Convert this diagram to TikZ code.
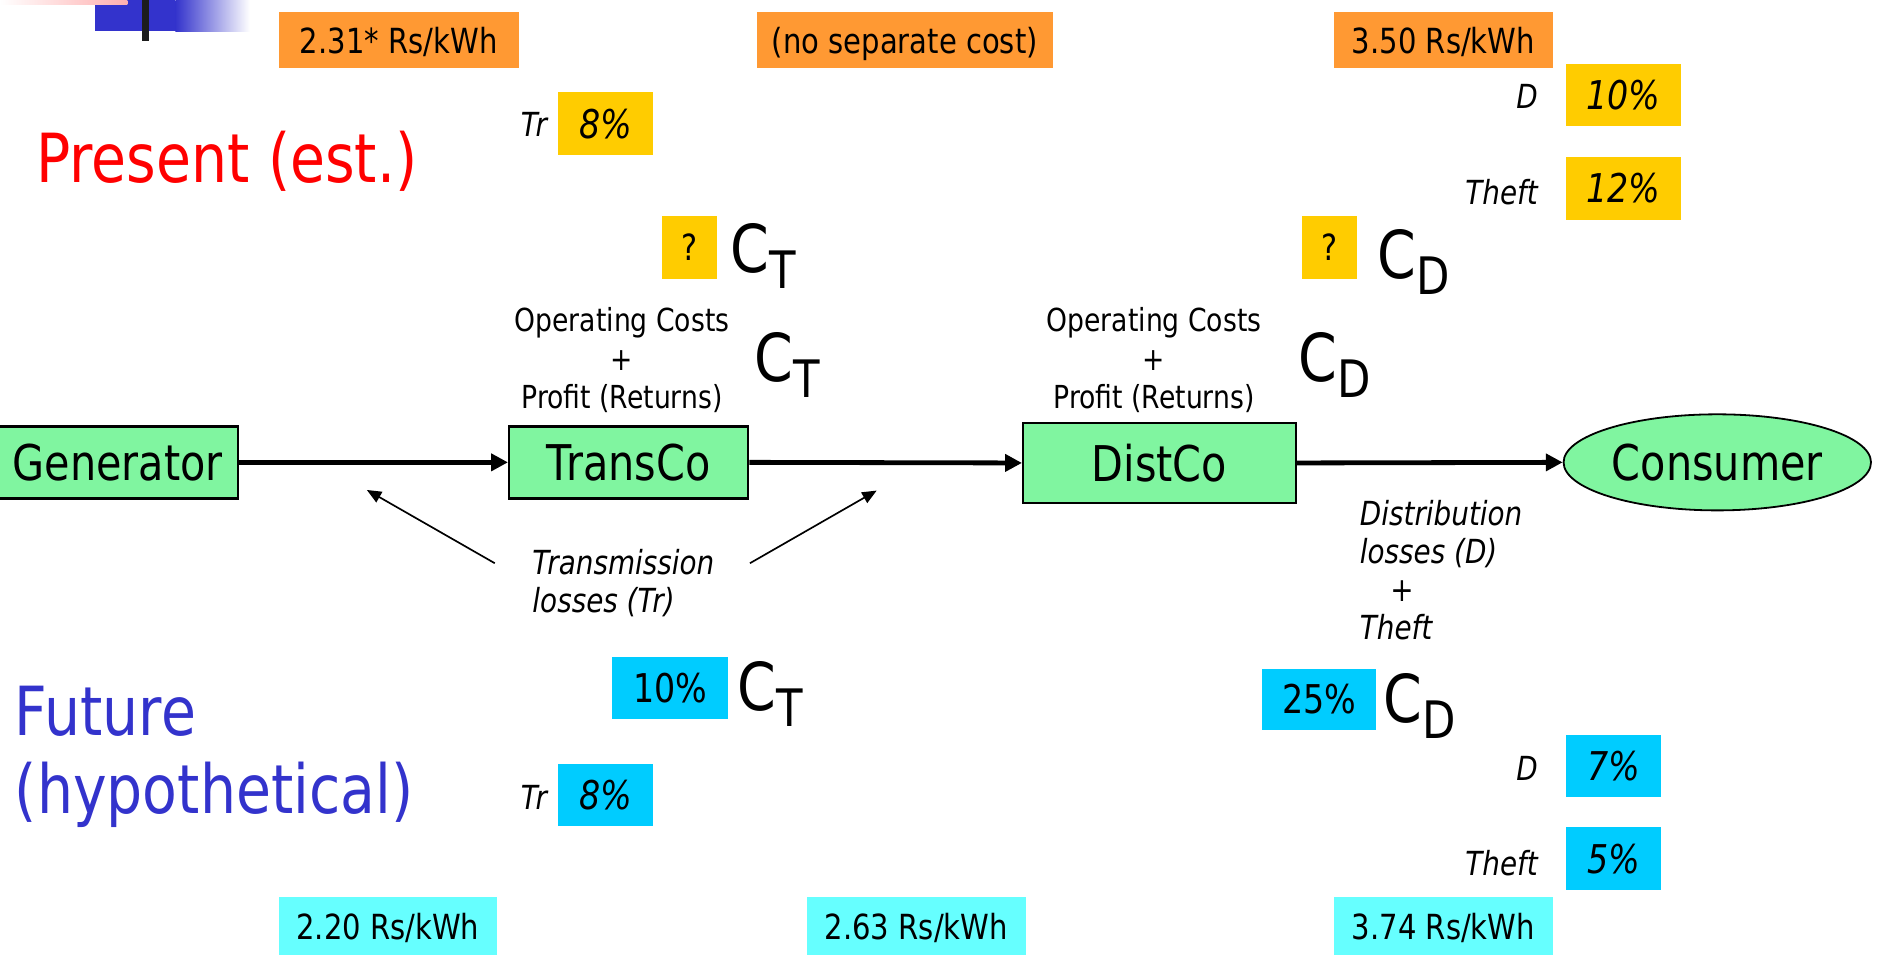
\documentclass[tikz,border=0pt]{standalone}
\usepackage{fontspec}
\setmainfont{DejaVu Sans}[FakeStretch=0.84]
\usetikzlibrary{arrows.meta,shapes.geometric}
\definecolor{orng}{HTML}{FF9933}
\definecolor{yel}{HTML}{FFCC00}
\definecolor{skyb}{HTML}{00CCFF}
\definecolor{cyn}{HTML}{66FFFF}
\definecolor{grn}{HTML}{80F5A0}
\definecolor{tblue}{HTML}{3333CC}
\definecolor{pinkbar}{HTML}{FFB0B0}
\definecolor{logobar}{HTML}{1C1C1C}
\newcommand\fsNode{\fontsize{20.5pt}{24pt}\selectfont}
\newcommand\fsPrice{\fontsize{14.4pt}{17pt}\selectfont}
\newcommand\fsOp{\fontsize{13.2pt}{16pt}\selectfont}
\newcommand\fsLab{\fontsize{13.8pt}{15.8pt}\selectfont\itshape}
\newcommand\fsPct{\fontsize{16.5pt}{19pt}\selectfont}
\newcommand\fsTitle{\fontsize{28.2pt}{32.5pt}\selectfont}
\newcommand\fsC{\fontsize{27.5pt}{30pt}\selectfont}
\newcommand\fsSub{\fontsize{21.5pt}{24pt}\selectfont}
\newcommand\fsQ{\fontsize{15pt}{18pt}\selectfont}
\tikzset{
  bx/.style 2 args={minimum width=#1*0.5pt, minimum height=#2*0.5pt, inner sep=0pt},
  pricebox/.style={fill=orng, font=\fsPrice, text depth=0pt},
  futprice/.style={fill=cyn, font=\fsPrice, text depth=0pt},
  ybox/.style={fill=yel},
  bbox/.style={fill=skyb},
  pct/.style={font=\fsPct\itshape},
  pctup/.style={font=\fsPct},
  qbox/.style={fill=yel, font=\fsQ},
  lab/.style={font=\fsLab, inner sep=0pt},
  entity/.style={draw=black, line width=1pt, fill=grn, font=\fsNode, inner sep=0pt},
  cost/.style={font=\fsC, inner sep=0pt, anchor=base west},
  flow/.style={line width=2pt, -{Triangle[length=7pt,width=7pt]}},
  pointer/.style={line width=0.7pt, -{Triangle[length=6pt,width=5pt]}},
}
\newcommand\Csub[1]{C\raisebox{-6.5pt}{\fsSub #1}}
\begin{document}
\begin{tikzpicture}[x=0.5pt,y=-0.5pt]
\useasboundingbox (0,0) rectangle (1568,804);
% logo
\fill[tblue] (79,0) rectangle (146,26);
\shade[left color=tblue, right color=white] (146,0) rectangle (208,26);
\shade[left color=white, right color=pinkbar] (0,0) rectangle (106,4);
\fill[logobar] (118,0) rectangle (124,34);
% titles
\node[anchor=base west, inner sep=0pt, font=\fsTitle, text=red] (present) at (30,152) {Present (est.)};
\node[anchor=north west, inner sep=0pt, font=\fsTitle, text=tblue, align=left] (future) at (12,571) {Future\\(hypothetical)};
% present prices
\node[pricebox, bx={200}{47}] (p1) at (332,33.5) {2.31* Rs/kWh};
\node[pricebox, bx={247}{47}] (p2) at (753.5,33.5) {(no separate cost)};
\node[pricebox, bx={182}{47}] (p3) at (1202,33.5) {3.50 Rs/kWh};
% present losses
\node[ybox, pct, bx={79}{52}] (ytr) at (504.5,103) {8\%};
\node[lab, anchor=east] (ltr) at (456,104) {Tr};
\node[ybox, pct, bx={96}{52}] (yd) at (1352,79) {10\%};
\node[lab, anchor=east] (ld) at (1281,80) {D};
\node[ybox, pct, bx={96}{52}] (yth) at (1352,157) {12\%};
\node[lab, anchor=east] (lth) at (1281,160) {Theft};
% present costs
\node[qbox, bx={46}{52}] (q1) at (574,206) {?};
\node[cost] (ct1) at (608,227) {\Csub{T}};
\node[qbox, bx={46}{52}] (q2) at (1107,206) {?};
\node[cost] (cd1) at (1147,232) {\Csub{D}};
% operating costs
\node[font=\fsOp, align=center, inner sep=0pt] (op1) at (518,300) {Operating Costs\\+\\Profit (Returns)};
\node[cost] (ct2) at (628,318) {\Csub{T}};
\node[font=\fsOp, align=center, inner sep=0pt] (op2) at (961,300) {Operating Costs\\+\\Profit (Returns)};
\node[cost] (cd2) at (1081,318) {\Csub{D}};
% chain
\node[entity, bx={200}{60}] (gen) at (98,385) {Generator};
\node[entity, bx={199}{60}] (trans) at (523.5,385) {TransCo};
\node[entity, bx={227}{67}] (dist) at (965.5,385.5) {DistCo};
\node[entity, ellipse, bx={256}{80}, line width=0.75pt] (cons) at (1430,385) {Consumer};
\draw[flow] (gen.east) -- (trans.west);
\draw[flow] (trans.east) -- (dist.west);
\draw[flow] (dist.east) -- (cons.west);
% transmission losses
\node[lab, anchor=north west, align=left] (tl) at (443,457) {Transmission\\losses (Tr)};
\coordinate (tlA) at (412,469);
\coordinate (tlB) at (624.5,469);
\coordinate (tipA) at (305.5,408);
\coordinate (tipB) at (730,408.5);
\draw[pointer] (tlA) -- (tipA);
\draw[pointer] (tlB) -- (tipB);
% distribution losses
\node[lab, anchor=north west, align=left] (dl) at (1132,416) {Distribution\\losses (D)\\\hspace*{12.7pt}+\\Theft};
% future costs
\node[bbox, pctup, bx={96}{52}] (b10) at (558,573) {10\%};
\node[cost] (ct3) at (614,592) {\Csub{T}};
\node[bbox, pctup, bx={95}{51}] (b25) at (1098.5,582.5) {25\%};
\node[cost] (cd3) at (1152,602) {\Csub{D}};
% future losses
\node[bbox, pct, bx={79}{52}] (btr) at (504.5,662) {8\%};
\node[lab, anchor=east] (ltr2) at (456,664) {Tr};
\node[bbox, pct, bx={79}{52}] (bd) at (1343.5,638) {7\%};
\node[lab, anchor=east] (ld2) at (1281,640) {D};
\node[bbox, pct, bx={79}{52}] (bth) at (1343.5,715) {5\%};
\node[lab, anchor=east] (lth2) at (1281,719) {Theft};
% future prices
\node[futprice, bx={182}{48}] (f1) at (323,771) {2.20 Rs/kWh};
\node[futprice, bx={182}{48}] (f2) at (763,771) {2.63 Rs/kWh};
\node[futprice, bx={182}{48}] (f3) at (1202,771) {3.74 Rs/kWh};
\end{tikzpicture}
\end{document}
